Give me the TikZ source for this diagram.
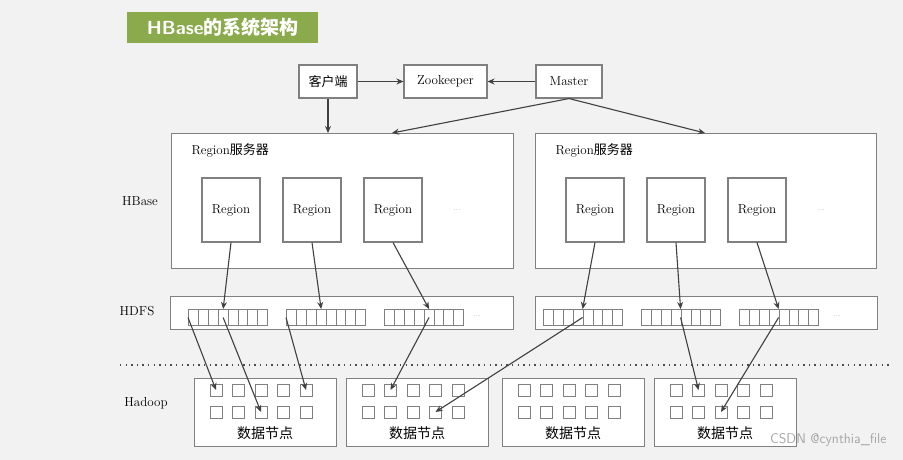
\documentclass[tikz,border=0pt]{standalone}
\usepackage{fontspec}
\newfontfamily\cjk{Noto Sans CJK SC}
\usetikzlibrary{arrows.meta}
\definecolor{bg}{HTML}{F2F2F2}
\definecolor{ln}{HTML}{808080}
\definecolor{ttl}{HTML}{8BAA4B}
\newcommand{\fs}{\fontsize{13}{15}\selectfont}
\begin{document}
\begin{tikzpicture}[x=1pt,y=-1pt,
  box/.style={draw=ln,fill=white,line width=1.1pt,inner sep=0pt,anchor=north west},
  sq/.style={draw=ln,fill=white,line width=1pt,minimum width=12pt,minimum height=12pt,inner sep=0pt},
  cell/.style={draw=ln,fill=white,line width=1pt,minimum width=9.9pt,minimum height=16pt,inner sep=0pt},
  arr/.style={draw=black!75,line width=1.1pt,-{Stealth[length=7pt,width=6pt]}},
  lab/.style={font=\fs},
  dots/.style={text=black!40,font=\footnotesize}]
\useasboundingbox[fill=bg] (0,0) rectangle (903,460);
\node[fill=ttl,minimum width=191pt,minimum height=31pt,anchor=north west,text=white,font=\sffamily\bfseries\fontsize{19}{21}\selectfont] (title) at (127,12) {HBase\cjk{的系统架构}};
\node[box,minimum width=58pt,minimum height=33pt,anchor=center,font=\fs] (cli) at (328,81.5) {\cjk{客户端}};
\node[box,minimum width=83pt,minimum height=33pt,anchor=center,font=\fs] (zk) at (445.5,81.5) {Zookeeper};
\node[box,minimum width=66pt,minimum height=33pt,anchor=center,font=\fs] (ms) at (569,81.5) {Master};
\node[box,minimum width=342pt,minimum height=135pt] (rs1) at (171,133) {};
\node[box,minimum width=341pt,minimum height=135pt] (rs2) at (535,133) {};
\node[lab,anchor=west] (rs1l) at (188,150) {Region\cjk{服务器}};
\node[lab,anchor=west] (rs2l) at (552,150) {Region\cjk{服务器}};
\node[lab] (lhb) at (140,201) {HBase};
\node[lab] (lhd) at (137,311) {HDFS};
\node[lab] (lha) at (146,403) {Hadoop};
\foreach \x/\n in {231/r1,312/r2,393/r3,595/r4,676/r5,757/r6}
  \node[box,minimum width=58pt,minimum height=64pt,anchor=center,font=\fs] (\n) at (\x,210) {Region};
\node[dots] (d1) at (457,210) {...};
\node[dots] (d2) at (821,210) {...};
\node[box,minimum width=343pt,minimum height=33pt] (h1) at (170,296) {};
\node[box,minimum width=342pt,minimum height=33pt] (h2) at (535,296) {};
\foreach \s/\x in {a/188,b/286,c/384,d/543,e/641,f/739}
  \foreach \i in {1,...,8}
    \node[cell,anchor=north west] (\s\i) at ({\x+(\i-1)*9.9},309) {};
\node[dots] (d3) at (477,316) {...};
\node[dots] (d4) at (837,316) {...};
\draw[black!70,line width=1.4pt,dash pattern=on 1.4pt off 4.2pt] (120,365) -- (890,365);
\foreach \k/\x in {1/194,2/346,3/502,4/654}{
  \node[box,minimum width=142pt,minimum height=68pt] (dn\k) at (\x,378) {};
  \node[font=\cjk\fontsize{14}{16}\selectfont] (dt\k) at ({\x+71},433) {数据节点};
  \foreach \j in {1,...,5}{
    \node[sq] (q\k\j) at ({\x+22+(\j-1)*22.5},390) {};
    \node[sq] (p\k\j) at ({\x+22+(\j-1)*22.5},412) {};
  }}
\coordinate (c1) at (328,133);
\coordinate (m1) at (392,133);
\coordinate (m2) at (705,133);
\draw[arr] (cli) -- (c1);
\draw[arr] (cli) -- (zk);
\draw[arr] (ms) -- (zk);
\draw[arr] (ms.south) -- (m1);
\draw[arr] (ms.south) -- (m2);
\draw[arr] (r1.south) -- (a4.north);
\draw[arr] (r2.south) -- (b4.north);
\draw[arr] (r3.south) -- (c5.north);
\draw[arr] (r4.south) -- (d5.north west);
\draw[arr] (r5.south) -- (e5.north west);
\draw[arr] (r6.south) -- (f5.north west);
\draw[arr] (a1.west) -- (q11.center);
\draw[arr] (a4.center) -- (p13.center);
\draw[arr] (b1.west) -- (q15.center);
\draw[arr] (c5.center) -- (q22.center);
\draw[arr] (d5.west) -- (p24.center);
\draw[arr] (e5.west) -- (q42.center);
\draw[arr] (f5.west) -- (p43.center);
\node[text=black!35,font=\sffamily\fontsize{14}{16}\selectfont,anchor=east] (wm) at (890,440) {CSDN @cynthia\_file};
\end{tikzpicture}
\end{document}
